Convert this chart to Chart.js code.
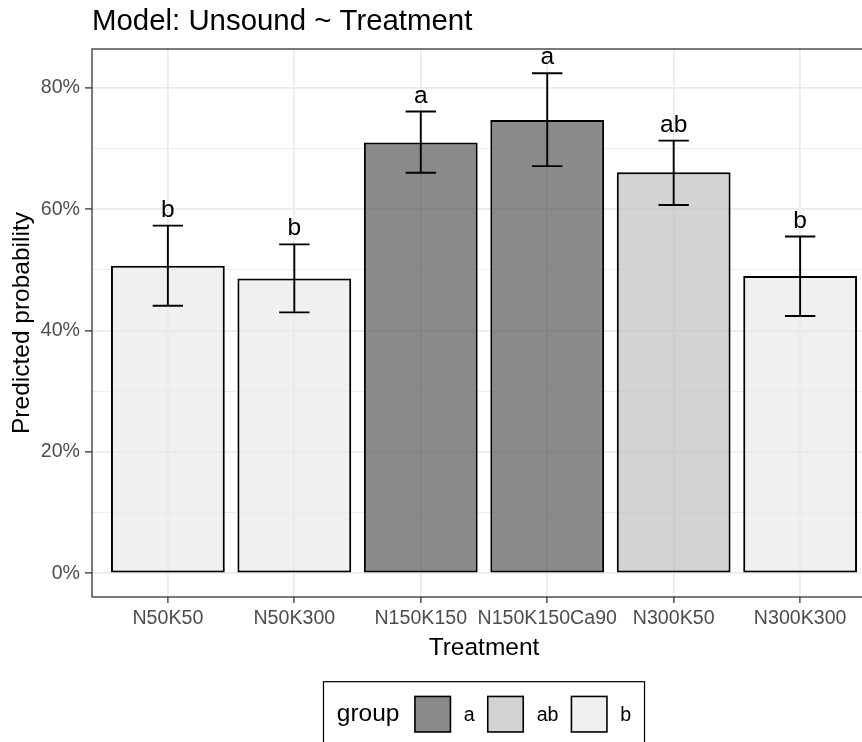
<!DOCTYPE html>
<html>
<head>
<meta charset="utf-8">
<script src="https://cdn.jsdelivr.net/npm/chart.js@4.4.1/dist/chart.umd.min.js"></script>
<style>
  html, body { margin: 0; padding: 0; background: #fff; overflow: hidden; }
  #wrap { width: 882px; height: 742px; }
</style>
</head>
<body>
<div id="wrap"><canvas id="grafico" width="882" height="742"></canvas></div>
<script>
// dados
var tratamentos = ['N50K50', 'N50K300', 'N150K150', 'N150K150Ca90', 'N300K50', 'N300K300'];
var probabilidade = [0.507, 0.486, 0.710, 0.747, 0.661, 0.490];
var inferior = [0.441, 0.430, 0.660, 0.671, 0.607, 0.424];
var superior = [0.573, 0.542, 0.761, 0.824, 0.713, 0.555];
var letras = ['b', 'b', 'a', 'a', 'ab', 'b'];
var grupos = ['a', 'ab', 'b'];
var coresGrupo = ['rgba(88,88,88,0.7)', 'rgba(192,192,192,0.7)', 'rgba(234,234,234,0.7)'];
var ticksMaiores = [0, 0.2, 0.4, 0.6, 0.8];
var ticksMenores = [0.1, 0.3, 0.5, 0.7];

var fonte = "'Liberation Sans', Arial, sans-serif";

function corDoGrupo(g){
    return coresGrupo[grupos.indexOf(g)];
}
function ehMaior(v){
    return ticksMaiores.some(function(t){ return Math.abs(t - v) < 1e-9; });
}

// barras de erro, letras, borda, titulos e legenda
var extras = {
    id: 'extras',
    afterDatasetsDraw: function(chart){
        var ctx = chart.ctx;
        var xs = chart.scales.x, ys = chart.scales.y;
        var meia = xs.getPixelForValue(0.12) - xs.getPixelForValue(0);
        ctx.save();
        ctx.strokeStyle = '#000';
        ctx.lineWidth = 1.9;
        for (var i = 0; i < tratamentos.length; i++) {
            var x = xs.getPixelForValue(i);
            var yl = ys.getPixelForValue(inferior[i]);
            var yu = ys.getPixelForValue(superior[i]);
            ctx.beginPath();
            ctx.moveTo(x, yl); ctx.lineTo(x, yu);
            ctx.moveTo(x - meia, yl); ctx.lineTo(x + meia, yl);
            ctx.moveTo(x - meia, yu); ctx.lineTo(x + meia, yu);
            ctx.stroke();
            ctx.fillStyle = '#000';
            ctx.font = '24.5px ' + fonte;
            ctx.textAlign = 'center';
            ctx.textBaseline = 'alphabetic';
            ctx.fillText(letras[i], x, yu - 9);
        }
        ctx.restore();
    },
    afterDraw: function(chart){
        var ctx = chart.ctx;
        var a = chart.chartArea;
        ctx.save();
        // borda do painel
        ctx.strokeStyle = '#333333';
        ctx.lineWidth = 1.3;
        ctx.strokeRect(a.left, a.top, a.right - a.left, a.bottom - a.top);

        // titulo
        ctx.fillStyle = '#000';
        ctx.textAlign = 'left';
        ctx.textBaseline = 'alphabetic';
        ctx.font = '29.4px ' + fonte;
        ctx.fillText('Model: Unsound ~ Treatment', a.left, 29.5);

        // titulo eixo x
        var cx = (a.left + a.right) / 2;
        ctx.font = '24.5px ' + fonte;
        ctx.textAlign = 'center';
        ctx.fillText('Treatment', cx, 655);

        // titulo eixo y
        ctx.save();
        ctx.translate(28.5, (a.top + a.bottom) / 2);
        ctx.rotate(-Math.PI / 2);
        ctx.fillText('Predicted probability', 0, 0);
        ctx.restore();

        // legenda
        var chave = 35.5;
        ctx.font = '24.5px ' + fonte;
        var wTitulo = ctx.measureText('group').width;
        ctx.font = '19.6px ' + fonte;
        var largs = grupos.map(function(g){ return ctx.measureText(g).width; });
        var total = 13.3 + wTitulo + 15.5;
        for (var i = 0; i < grupos.length; i++) {
            total += chave + 13.4 + largs[i] + (i < grupos.length - 1 ? 13 : 13.3);
        }
        var bx = cx - total / 2;
        var by = 681.7;
        var meio = 714.2;
        ctx.strokeStyle = '#000';
        ctx.lineWidth = 1.2;
        ctx.strokeRect(bx, by, total, 80);

        var px = bx + 13.3;
        ctx.textAlign = 'left';
        ctx.textBaseline = 'middle';
        ctx.fillStyle = '#000';
        ctx.font = '24.5px ' + fonte;
        ctx.fillText('group', px, meio);
        px += wTitulo + 15.5;
        for (var j = 0; j < grupos.length; j++) {
            ctx.fillStyle = '#fff';
            ctx.fillRect(px, meio - chave / 2, chave, chave);
            ctx.fillStyle = coresGrupo[j];
            ctx.fillRect(px, meio - chave / 2, chave, chave);
            ctx.strokeStyle = '#000';
            ctx.lineWidth = 1.6;
            ctx.strokeRect(px, meio - chave / 2, chave, chave);
            px += chave + 13.4;
            ctx.fillStyle = '#000';
            ctx.font = '19.6px ' + fonte;
            ctx.fillText(grupos[j], px, meio + 1);
            px += largs[j] + 13;
        }
        ctx.restore();
    }
};

var pontos = tratamentos.map(function(t, i){ return {x: i, y: probabilidade[i]}; });

new Chart(document.getElementById('grafico'), {
    type: 'bar',
    data: {
        datasets: [{
            data: pontos,
            backgroundColor: letras.map(corDoGrupo),
            borderColor: '#000',
            borderWidth: 2,
            borderSkipped: false,
            categoryPercentage: 0.9,
            barPercentage: 1
        }]
    },
    options: {
        responsive: false,
        animation: false,
        layout: { padding: { top: 49, right: 6, left: 0, bottom: 0 } },
        plugins: {
            legend: { display: false },
            tooltip: { enabled: false },
            title: { display: false }
        },
        scales: {
            x: {
                type: 'linear',
                offset: false,
                min: -0.6,
                max: tratamentos.length - 0.4,
                afterBuildTicks: function(s){
                    s.ticks = tratamentos.map(function(t, i){ return {value: i}; });
                },
                afterFit: function(s){ s.height = 145; },
                border: { display: false },
                grid: {
                    offset: false,
                    color: '#ebebeb',
                    lineWidth: 1.8,
                    tickColor: '#333333',
                    tickWidth: 1.3,
                    tickLength: 6
                },
                ticks: {
                    autoSkip: false,
                    maxRotation: 0,
                    padding: 4,
                    color: '#4d4d4d',
                    font: { family: fonte, size: 19.6 },
                    callback: function(v){ return tratamentos[v]; }
                }
            },
            y: {
                min: -0.039,
                max: 0.864,
                afterBuildTicks: function(s){
                    s.ticks = ticksMaiores.concat(ticksMenores).sort().map(function(v){ return {value: v}; });
                },
                afterFit: function(s){ s.width = 92; },
                border: { display: false },
                grid: {
                    color: '#ebebeb',
                    lineWidth: function(c){ return ehMaior(c.tick.value) ? 1.8 : 0.9; },
                    tickColor: function(c){ return ehMaior(c.tick.value) ? '#333333' : 'rgba(0,0,0,0)'; },
                    tickWidth: 1.3,
                    tickLength: 7
                },
                ticks: {
                    padding: 5,
                    color: '#4d4d4d',
                    font: { family: fonte, size: 19.6 },
                    callback: function(v){ return ehMaior(v) ? Math.round(v * 100) + '%' : ''; }
                }
            }
        }
    },
    plugins: [extras]
});
</script>
</body>
</html>
